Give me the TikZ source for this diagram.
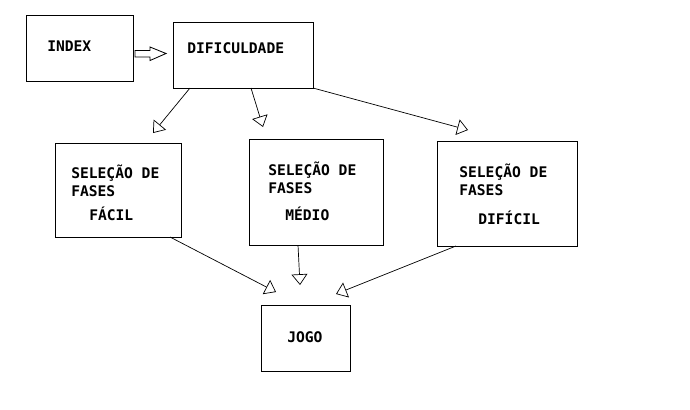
\documentclass[tikz,border=0pt]{standalone}
\usepackage{fontspec}
\setmonofont{DejaVu Sans Mono}
\usetikzlibrary{arrows.meta,calc}

\begin{document}
\begin{tikzpicture}[
  x=0.025cm, y=-0.025cm,
  box/.style={rectangle, draw, line width=0.6pt, inner sep=0pt, outer sep=0pt},
  txt/.style={anchor=base west, inner sep=0pt, font=\fontsize{10.4}{12}\selectfont\ttfamily\bfseries},
  arrow/.style={-{Triangle[open, length=2.7mm, width=4mm]}, line width=0.5pt},
  hollow/.style={draw, line width=0.6pt, fill=white},
]
\useasboundingbox (0,0) rectangle (690,409);

% boxes
\node[box, minimum width=2.675cm, minimum height=1.65cm] (idx) at (79.5,48) {};
\node[box, minimum width=3.5cm, minimum height=1.65cm] (dif) at (243,55) {};
\node[box, minimum width=3.15cm, minimum height=2.35cm] (fac) at (118,190) {};
\node[box, minimum width=3.35cm, minimum height=2.65cm] (med) at (316,192) {};
\node[box, minimum width=3.5cm, minimum height=2.625cm] (dfc) at (507,193.5) {};
\node[box, minimum width=2.225cm, minimum height=1.65cm] (jogo) at (305.5,338) {};

% texts
\node[txt] (t-idx) at (47,51) {INDEX};
\node[txt] (t-dif) at (187,53) {DIFICULDADE};
\node[txt] (t-fac1) at (71,178) {SELEÇÃO DE};
\node[txt] (t-fac2) at (71,196) {FASES};
\node[txt] (t-fac3) at (89,220) {FÁCIL};
\node[txt] (t-med1) at (268,175) {SELEÇÃO DE};
\node[txt] (t-med2) at (268,193) {FASES};
\node[txt] (t-med3) at (285,220) {MÉDIO};
\node[txt] (t-dfc1) at (459,177) {SELEÇÃO DE};
\node[txt] (t-dfc2) at (459,195) {FASES};
\node[txt] (t-dfc3) at (478,224) {DIFÍCIL};
\node[txt] (t-jogo) at (287,342) {JOGO};

% free arrow ends
\coordinate (h1) at (153,133);
\coordinate (h2) at (263,127);
\coordinate (h3) at (468,130);
\coordinate (h4) at (276,292);
\coordinate (h5) at (300,285);
\coordinate (h6) at (336,294);

% block arrow index -> dificuldade
\draw[hollow] ($(idx.east)+(2,2.5)$) -- ++(15,0) -- ++(0,-3.5) -- ++(16,6.5)
  -- ++(-16,7) -- ++(0,-3.5) -- ++(-15,0) -- cycle;

\draw[arrow] ($(dif.south west)+(17,0)$) -- (h1);
\draw[arrow] ($(dif.south west)+(78,0)$) -- (h2);
\draw[arrow] (dif.south east) -- (h3);
\draw[arrow] ($(fac.south east)+(-11,0)$) -- (h4);
\draw[arrow] ($(med.south)+(-18,0)$) -- (h5);
\draw[arrow] ($(dfc.south west)+(19,0)$) -- (h6);
\end{tikzpicture}
\end{document}
